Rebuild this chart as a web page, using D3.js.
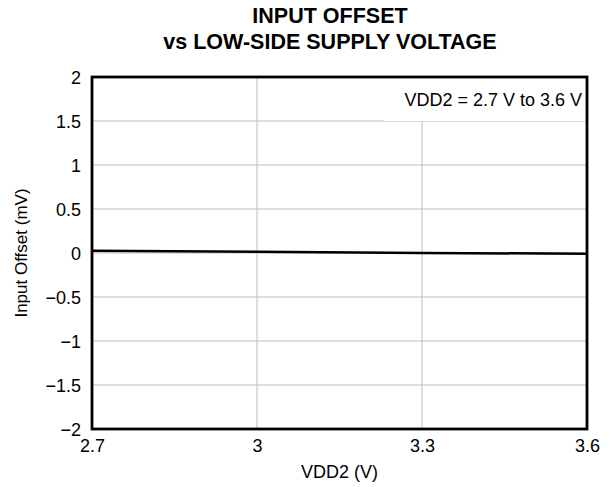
<!DOCTYPE html>
<html>
<head>
<meta charset="utf-8">
<script src="https://cdn.jsdelivr.net/npm/d3@7.8.5/dist/d3.min.js"></script>
<style>
  body { margin: 0; background: #fff; }
  text { font-family: "Liberation Sans", Arial, sans-serif; fill: #000; }
</style>
</head>
<body>
<div id="chart"></div>
<script>
const supplyVoltage = [2.7, 3.0, 3.3, 3.6];
const inputOffset = [0.025, 0.015, 0.0, -0.008];
const xTicks = [2.7, 3.0, 3.3, 3.6];
const yTicks = [-2, -1.5, -1, -0.5, 0, 0.5, 1, 1.5, 2];
const titleLines = ['INPUT OFFSET', 'vs LOW-SIDE SUPPLY VOLTAGE'];
const legendText = 'VDD2 = 2.7 V to 3.6 V';

const width = 611, height = 487;
const margin = { top: 77, right: 24, bottom: 58, left: 92 };

const svg = d3.select('#chart').append('svg')
  .attr('width', width)
  .attr('height', height);

const x = d3.scaleLinear().domain([2.7, 3.6]).range([margin.left, width - margin.right]);
const y = d3.scaleLinear().domain([-2, 2]).range([height - margin.bottom, margin.top]);

const fmt = d => (d < 0 ? '\u2212' : '') + String(Math.abs(+d.toFixed(2)));

// grid
svg.append('g')
  .selectAll('line')
  .data(xTicks.slice(1, -1))
  .enter().append('line')
  .attr('x1', d => x(d)).attr('x2', d => x(d))
  .attr('y1', y(2)).attr('y2', y(-2))
  .attr('stroke', '#bdbdbd').attr('stroke-width', 1);

svg.append('g')
  .selectAll('line')
  .data(yTicks.slice(1, -1))
  .enter().append('line')
  .attr('x1', x(2.7)).attr('x2', x(3.6))
  .attr('y1', d => y(d)).attr('y2', d => y(d))
  .attr('stroke', '#bdbdbd').attr('stroke-width', 1);

// legend box covers the grid
svg.append('rect')
  .attr('x', 384).attr('y', y(2))
  .attr('width', x(3.6) - 384).attr('height', 44)
  .attr('fill', '#fff');

svg.append('text')
  .attr('x', x(3.6) - 5).attr('y', 106)
  .attr('text-anchor', 'end')
  .style('font-size', '18px')
  .text(legendText);

// data
const line = d3.line()
  .x((d, i) => x(supplyVoltage[i]))
  .y(d => y(d));

svg.append('path')
  .datum(inputOffset)
  .attr('d', line)
  .attr('fill', 'none')
  .attr('stroke', '#000')
  .attr('stroke-width', 2.5);

// frame
svg.append('rect')
  .attr('x', x(2.7)).attr('y', y(2))
  .attr('width', x(3.6) - x(2.7)).attr('height', y(-2) - y(2))
  .attr('fill', 'none')
  .attr('stroke', '#000')
  .attr('stroke-width', 2.8);

// axes
const yAxis = d3.axisLeft(y).tickValues(yTicks).tickSize(0).tickPadding(11).tickFormat(fmt);
svg.append('g')
  .attr('transform', `translate(${margin.left},0)`)
  .call(yAxis)
  .call(g => g.select('.domain').remove())
  .selectAll('text')
  .style('font-size', '18px')
  .style('font-family', '"Liberation Sans", Arial, sans-serif')
  .attr('dy', '0.38em');

const xAxis = d3.axisBottom(x).tickValues(xTicks).tickSize(0).tickPadding(10)
  .tickFormat(d => d === 3 ? '3' : d3.format('.1f')(d));
svg.append('g')
  .attr('transform', `translate(0,${height - margin.bottom})`)
  .call(xAxis)
  .call(g => g.select('.domain').remove())
  .selectAll('text')
  .style('font-size', '18px')
  .style('font-family', '"Liberation Sans", Arial, sans-serif');

// labels
svg.append('text')
  .attr('x', (x(2.7) + x(3.6)) / 2).attr('y', 478)
  .attr('text-anchor', 'middle')
  .style('font-size', '18px')
  .text('VDD2 (V)');

svg.append('text')
  .attr('transform', `translate(27,${(y(2) + y(-2)) / 2}) rotate(-90)`)
  .attr('text-anchor', 'middle')
  .style('font-size', '17px')
  .text('Input Offset (mV)');

svg.append('g')
  .selectAll('text')
  .data(titleLines)
  .enter().append('text')
  .attr('x', 330)
  .attr('y', (d, i) => 23 + i * 25.5)
  .attr('text-anchor', 'middle')
  .style('font-size', '21.5px')
  .style('font-weight', 'bold')
  .text(d => d);
</script>
</body>
</html>
